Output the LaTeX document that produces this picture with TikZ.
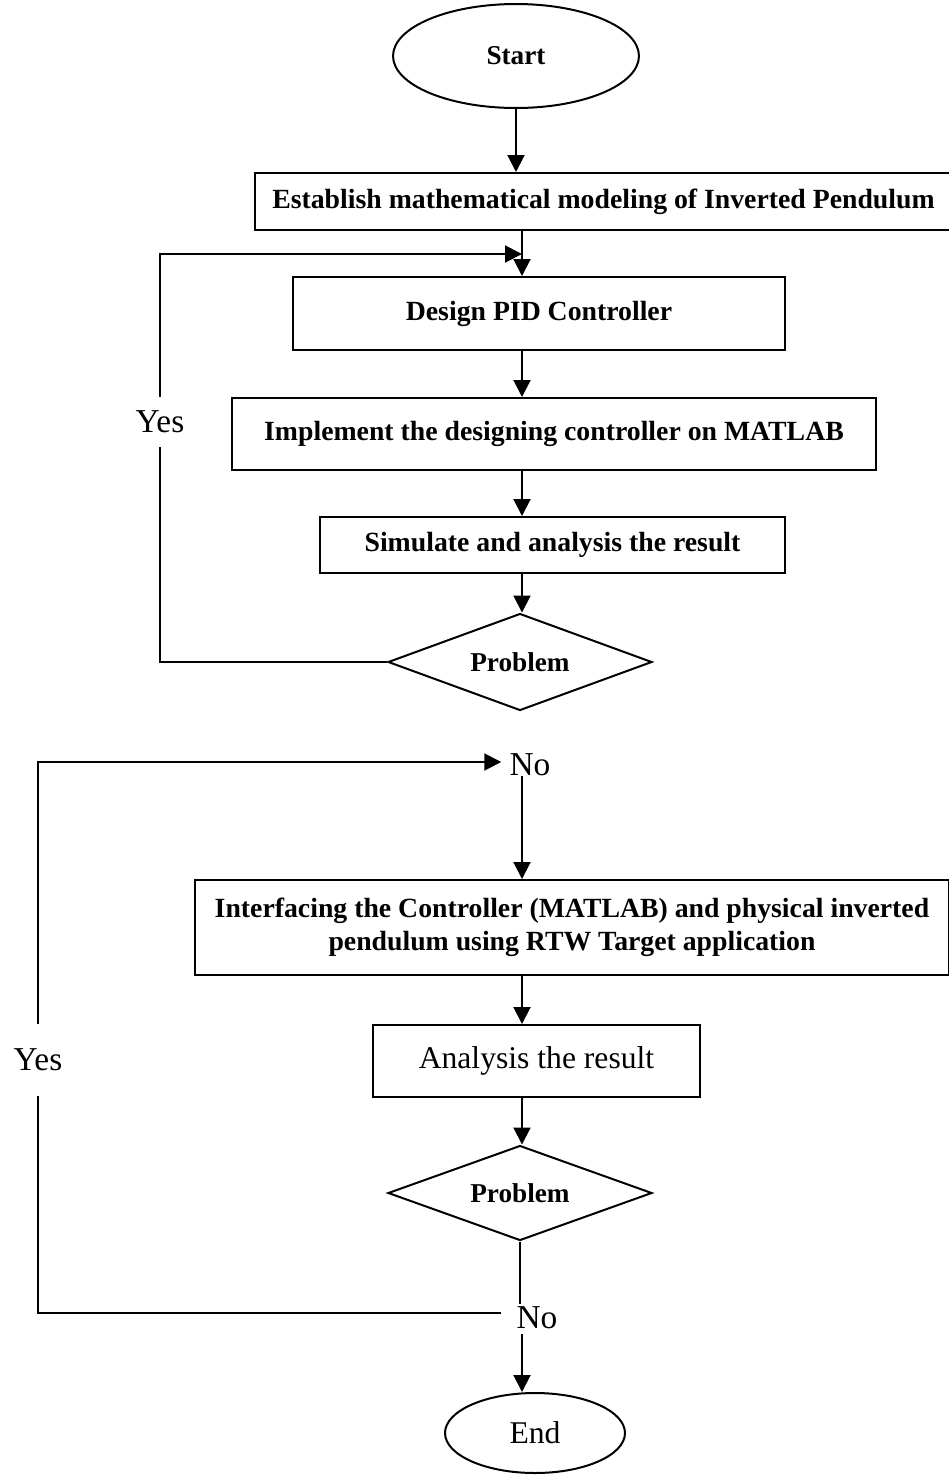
\documentclass[tikz,border=0pt]{standalone}
\usepackage{fontspec}
\setmainfont{Liberation Serif}
\usetikzlibrary{shapes.geometric,arrows.meta}
\tikzset{
  flowbox/.style={draw,line width=0.04cm,rectangle,inner sep=0pt,align=center,font=\bfseries\fontsize{15.8}{19}\selectfont},
  flowend/.style={draw,line width=0.04cm,ellipse,inner sep=0pt,font=\fontsize{18}{21}\selectfont},
  flowtest/.style={draw,line width=0.04cm,diamond,aspect=2.7,inner sep=0pt,font=\bfseries\fontsize{15.5}{18}\selectfont},
  flowlabel/.style={inner sep=0pt,font=\fontsize{19}{22}\selectfont},
  flowline/.style={line width=0.04cm},
  flowarrow/.style={line width=0.04cm,-{Triangle[length=0.34cm,width=0.34cm]}}
}
\begin{document}
\begin{tikzpicture}[x=0.02cm,y=-0.02cm]
  \useasboundingbox (0,0) rectangle (949,1475);
  {
  % Column of the straight connectors
  \coordinate (axis) at (522,0);

  % Drawing upper part
  \node[flowend,minimum width=4.92cm,minimum height=2.08cm,font=\bfseries\fontsize{15.5}{18}\selectfont] (start) at (516,56) {Start};
  \node[flowbox,minimum width=13.94cm,minimum height=1.14cm] (model) at (603.5,201.5) {Establish mathematical modeling of Inverted Pendulum};
  \node[flowbox,minimum width=9.84cm,minimum height=1.46cm] (pid) at (539,313.5) {Design PID Controller};
  \node[flowbox,minimum width=12.88cm,minimum height=1.44cm] (impl) at (554,434) {Implement the designing controller on MATLAB};
  \node[flowbox,minimum width=9.3cm,minimum height=1.12cm] (simul) at (552.5,545) {Simulate and analysis the result};
  \node[flowtest,minimum width=5.28cm,minimum height=1.94cm] (probA) at (520,662) {Problem};
  \node[flowlabel,minimum height=0.98cm] (yesA) at (160,422) {Yes};

  % Drawing lower part
  \node[flowlabel,inner xsep=0.16cm] (noA) at (530,765) {No};
  \node[flowbox,minimum width=15.08cm,minimum height=1.9cm] (iface) at (572,927.5) {Interfacing the Controller (MATLAB) and physical inverted\\pendulum using RTW Target application};
  \node[flowbox,minimum width=6.54cm,minimum height=1.44cm,font=\fontsize{18}{21}\selectfont] (anal) at (536.5,1061) {Analysis the result};
  \node[flowtest,minimum width=5.28cm,minimum height=1.9cm] (probB) at (520,1193) {Problem};
  \node[flowlabel,minimum height=1.44cm] (yesB) at (38,1060) {Yes};
  \node[flowlabel,inner xsep=0.3cm,inner ysep=0.1cm] (noB) at (537,1318) {No};
  \node[flowend,minimum width=3.6cm,minimum height=1.6cm] (stop) at (535,1433) {End};

  % Drawing straight connectors
  \draw[flowarrow] (start.south) -- (start.south |- model.north);
  \draw[flowarrow] (model.south -| axis) -- (pid.north -| axis);
  \draw[flowarrow] (pid.south -| axis) -- (impl.north -| axis);
  \draw[flowarrow] (impl.south -| axis) -- (simul.north -| axis);
  \draw[flowarrow] (simul.south -| axis) -- (probA.north -| axis);
  \draw[flowarrow] (noA.south -| axis) -- (iface.north -| axis);
  \draw[flowarrow] (iface.south -| axis) -- (anal.north -| axis);
  \draw[flowarrow] (anal.south -| axis) -- (probB.north -| axis);
  \draw[flowline] (probB.south) -- ([yshift=-0.04cm]noB.north -| probB.south);
  \draw[flowarrow] (noB.south -| axis) -- (stop.north -| axis);

  % Drawing Yes loops
  \coordinate (joinA) at (522,254);
  \draw[flowline] (probA.west) -| (yesA.south);
  \draw[flowarrow] (yesA.north) |- (joinA);
  \draw[flowline] ([yshift=0.1cm]noB.west) -| (yesB.south);
  \draw[flowarrow] (yesB.north) |- ([yshift=0.06cm]noA.west);
  }
\end{tikzpicture}
\end{document}
